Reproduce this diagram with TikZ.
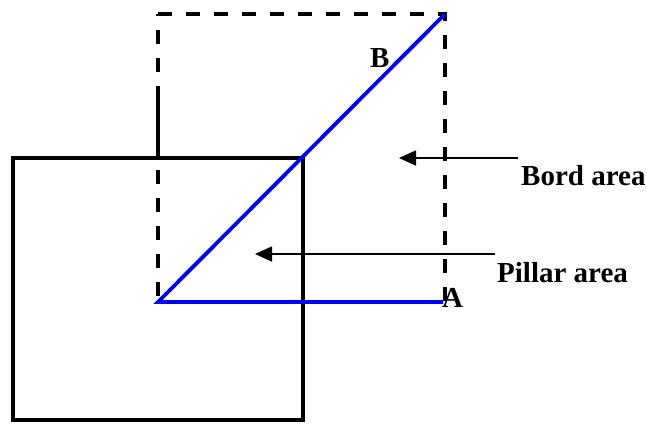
\documentclass[tikz,border=0pt]{standalone}
\usepackage{fontspec}
\setmainfont{Liberation Serif}
\usetikzlibrary{arrows.meta}
\begin{document}
\begin{tikzpicture}[x=1pt,y=-1pt,
  thickline/.style={line width=3.6pt},
  dashline/.style={line width=3.6pt,dash pattern=on 14pt off 14pt},
  blueline/.style={line width=3.8pt,color={rgb,255:red,0;green,0;blue,255}},
  pointer/.style={line width=1.6pt,-{Triangle[length=17pt,width=15pt]}},
  lbl/.style={font=\fontsize{29}{32}\selectfont\bfseries,inner sep=0pt,anchor=base west}]
\useasboundingbox (0,0) rectangle (647,423);
% dashed square corners
\coordinate (d1) at (158,14);
\coordinate (d2) at (445,14);
\coordinate (d3) at (445,302);
\coordinate (d4) at (158,302);
% solid square corners
\coordinate (s1) at (13,158);
\coordinate (s2) at (303,158);
\coordinate (s3) at (303,420);
\coordinate (s4) at (13,420);
\coordinate (e1) at (158,100);
\coordinate (e2) at (158,158);
\coordinate (bA) at (443,302);
% arrows
\coordinate (bs) at (518,158);
\coordinate (bt) at (399,158);
\coordinate (ps) at (495,254);
\coordinate (pt) at (255,254);

\draw[dashline] (d1) -- (d2) -- (d3) -- (d4) -- cycle;
\draw[thickline] (e1) -- (e2);
\draw[thickline] (s1) -- (s2) -- (s3) -- (s4) -- cycle;
\draw[blueline] (d2) -- (d4) -- (bA);
\draw[pointer] (bs) -- (bt);
\draw[pointer] (ps) -- (pt);

\node[lbl] (B) at (370,67) {B};
\node[lbl] (A) at (442,307) {A};
\node[lbl] (bord) at (521,185) {Bord area};
\node[lbl] (pillar) at (497,282) {Pillar area};
\end{tikzpicture}
\end{document}
